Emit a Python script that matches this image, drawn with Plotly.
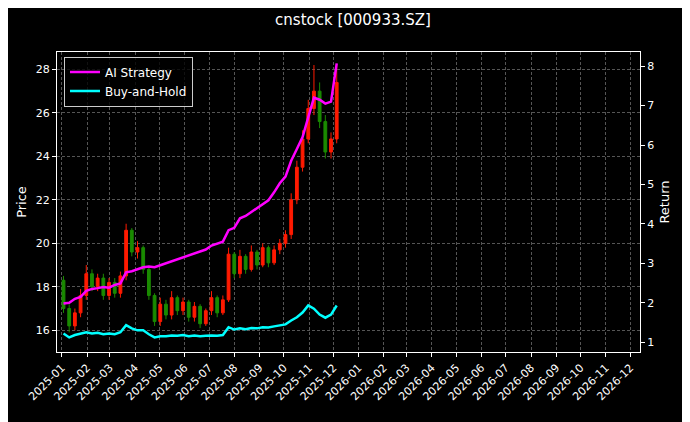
import pandas as pd
import plotly.graph_objects as go

# weekly bars
dates = pd.date_range("2025-01-03", periods=49, freq="W-FRI")
opens = [18.3, 17.0, 16.2, 16.8, 17.6, 18.6, 18.0, 18.4, 17.6, 18.2, 17.7, 18.5, 20.6, 19.6, 19.8, 18.8, 17.6,
         16.4, 17.2, 16.7, 17.5, 16.9, 17.3, 16.6, 17.1, 16.3, 16.9, 17.5, 16.8, 17.4, 19.5, 18.6, 19.4, 18.8,
         19.6, 19.0, 19.8, 19.1, 19.7, 20.0, 20.4, 22.0, 23.5, 24.8, 26.2, 27.0, 25.6, 24.2, 24.8]
closes = [17.0, 16.2, 16.8, 17.6, 18.6, 18.0, 18.4, 17.6, 18.2, 17.7, 18.5, 20.6, 19.6, 19.8, 18.8, 17.6, 16.4,
          17.2, 16.7, 17.5, 16.9, 17.3, 16.6, 17.1, 16.3, 16.9, 17.5, 16.8, 17.4, 19.5, 18.6, 19.4, 18.8, 19.6,
          19.0, 19.8, 19.1, 19.7, 20.0, 20.4, 22.0, 23.5, 24.8, 26.2, 27.0, 25.6, 24.2, 24.8, 27.4]
highs = [18.5, 17.2, 17.0, 17.9, 19.0, 18.8, 18.6, 18.6, 18.4, 18.4, 18.7, 20.9, 20.7, 20.1, 19.9, 18.9, 17.7,
         17.5, 17.4, 17.8, 17.6, 17.5, 17.4, 17.3, 17.2, 17.0, 17.8, 17.6, 17.6, 19.8, 19.6, 19.7, 19.5, 19.9,
         19.7, 20.0, 19.9, 19.9, 20.2, 20.6, 22.3, 23.8, 25.2, 26.6, 28.2, 27.4, 25.9, 25.1, 28.2]
lows = [16.8, 15.9, 16.0, 16.6, 17.4, 17.8, 17.8, 17.4, 17.4, 17.5, 17.5, 18.3, 19.4, 19.3, 18.6, 17.4, 16.2,
        16.2, 16.5, 16.5, 16.7, 16.7, 16.4, 16.4, 16.1, 16.2, 16.7, 16.6, 16.7, 17.3, 18.4, 18.4, 18.6, 18.7,
        18.8, 18.9, 18.9, 19.0, 19.5, 19.8, 20.2, 21.8, 23.3, 24.6, 25.9, 25.3, 23.9, 23.9, 24.6]

ai_return = [1.98, 2.0, 2.1, 2.15, 2.3, 2.35, 2.37, 2.4, 2.38, 2.45, 2.49, 2.77, 2.8, 2.85, 2.9, 2.92, 2.9,
             2.95, 3.0, 3.05, 3.1, 3.15, 3.2, 3.25, 3.3, 3.35, 3.45, 3.5, 3.55, 3.84, 3.9, 4.14, 4.2, 4.3,
             4.4, 4.52, 4.6, 4.8, 5.03, 5.2, 5.6, 5.9, 6.2, 6.7, 7.2, 7.15, 7.05, 7.1, 8.07]
bh_return = [1.22, 1.12, 1.18, 1.22, 1.25, 1.22, 1.24, 1.2, 1.22, 1.2, 1.25, 1.43, 1.35, 1.3, 1.3, 1.2, 1.12,
             1.15, 1.15, 1.17, 1.16, 1.18, 1.15, 1.17, 1.15, 1.16, 1.17, 1.16, 1.18, 1.38, 1.32, 1.35, 1.33,
             1.36, 1.35, 1.38, 1.37, 1.4, 1.42, 1.45, 1.55, 1.63, 1.75, 1.93, 1.85, 1.7, 1.62, 1.7, 1.93]

fig = go.Figure()
fig.add_trace(go.Candlestick(x=dates, open=opens, high=highs, low=lows, close=closes,
                             increasing=dict(line=dict(color="#ff1a00", width=1), fillcolor="#ff1a00"),
                             decreasing=dict(line=dict(color="#1a8a00", width=1), fillcolor="#1a8a00"),
                             showlegend=False, whiskerwidth=0))
fig.add_trace(go.Scatter(x=dates, y=ai_return, name="AI Strategy", mode="lines",
                         line=dict(color="#ff00ff", width=2.5), yaxis="y2"))
fig.add_trace(go.Scatter(x=dates, y=bh_return, name="Buy-and-Hold", mode="lines",
                         line=dict(color="#00ffff", width=2.5), yaxis="y2"))

# page body adds an 8px offset, so margins are shifted to compensate
grid = dict(showgrid=True, gridcolor="#555555", griddash="3px,2px", gridwidth=0.6)
fig.update_layout(
    width=690, height=422, paper_bgcolor="black", plot_bgcolor="black",
    font=dict(family="DejaVu Sans", color="white", size=11),
    title=dict(text="cnstock [000933.SZ]", x=0.5, xanchor="center", y=0.985, font=dict(size=15)),
    margin=dict(l=49, r=58, t=44, b=78, autoexpand=False),
    xaxis=dict(type="date", range=["2024-12-26", "2026-12-13"], dtick="M1", tickformat="%Y-%m",
               tick0="2025-01-01", tickangle=-45, rangeslider=dict(visible=False), automargin=False,
               ticks="outside", ticklen=4, tickcolor="white", showline=True, linecolor="white",
               mirror=True, **grid),
    yaxis=dict(title=dict(text="Price", standoff=6), range=[15.0, 28.8], dtick=2, ticks="outside",
               automargin=False, ticklen=4, tickcolor="white", showline=True, linecolor="white", **grid),
    yaxis2=dict(title=dict(text="Return", standoff=6), overlaying="y", side="right", range=[0.75, 8.36],
                automargin=False, dtick=1, ticks="outside", ticklen=4, tickcolor="white", showline=True,
                linecolor="white", showgrid=False),
    legend=dict(x=0.012, y=0.985, bgcolor="rgba(0,0,0,0.8)", bordercolor="#cccccc", borderwidth=1,
                font=dict(size=12)),
)
fig.write_html("out.html")
